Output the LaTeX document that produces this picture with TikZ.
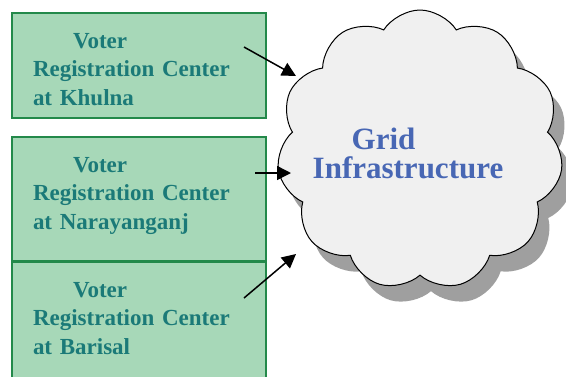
\documentclass[tikz,border=0pt]{standalone}
\usepackage{fontspec}
\setmainfont{Liberation Serif}
\usetikzlibrary{shapes.symbols,shadows,arrows.meta}
\definecolor{boxgreen}{HTML}{A7D8B8}
\definecolor{boxline}{HTML}{23894A}
\definecolor{regtext}{HTML}{1B7A78}
\definecolor{gridblue}{HTML}{4867B4}

\begin{document}
\begin{tikzpicture}[x=1pt,y=-1pt,every text node part/.style={align=left},
regcenter/.style={draw=boxline, line width=2pt, fill=boxgreen, anchor=north west, inner xsep=21pt, inner ysep=0pt,
  text width=212pt, text height=35pt, text=regtext, font=\bfseries\fontsize{23}{28.5}\selectfont},
gridcloud/.style={cloud, cloud puffs=11, cloud puff arc=115, aspect=1, draw, line width=1pt, fill=gray!12,
  minimum width=286pt, minimum height=280pt, drop shadow={shadow xshift=11pt, shadow yshift=-16pt, fill=gray!75, opacity=1}},
link/.style={-{Triangle[length=14pt,width=14pt]}, line width=1.5pt}]
\useasboundingbox (0,0) rectangle (566,376);
\node [regcenter, text depth=70pt] (khulna) at (11,12) {\hspace*{40pt}Voter\\Registration Center\\at Khulna};
\node [regcenter, text depth=89pt] (narayanganj) at (11,136) {\hspace*{40pt}Voter\\Registration Center\\at Narayanganj};
\node [regcenter, text depth=130pt] (barisal) at (11,261) {\hspace*{40pt}Voter\\Registration Center\\at Barisal};
\node [gridcloud] (grid) at (420,150) {};
\node [text=gridblue, font=\bfseries\fontsize{31}{29}\selectfont] (gridlabel) at (408,153) {\hspace*{39pt}Grid\\Infrastructure};
\coordinate (k) at (244,47);
\coordinate (n) at (255,173);
\coordinate (b) at (244,298);
\coordinate (kt) at (296,76);
\coordinate (nt) at (291,173);
\coordinate (bt) at (296,254);
\draw [link] (k) -- (kt);
\draw [link] (n) -- (nt);
\draw [link] (b) -- (bt);
\end{tikzpicture}
\end{document}
